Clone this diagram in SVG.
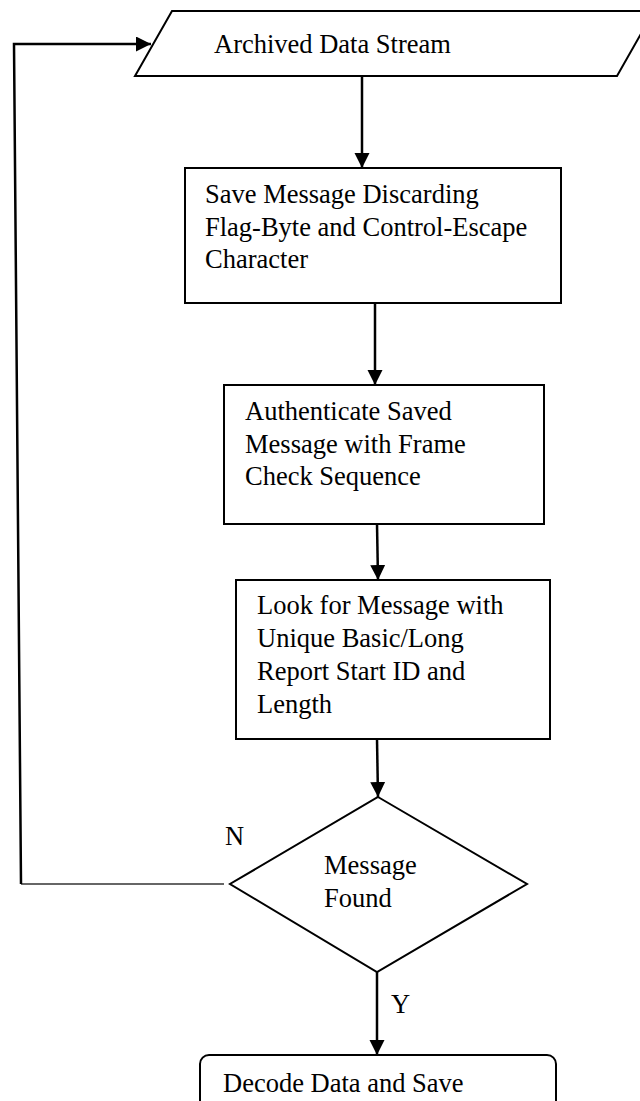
<svg xmlns="http://www.w3.org/2000/svg" width="640" height="1101" viewBox="0 0 640 1101">
<style>
  .shape { fill: #ffffff; stroke: #000000; stroke-width: 2; }
  .conn { fill: none; stroke: #000000; stroke-width: 2.5; }
  .thin { fill: none; stroke: #333333; stroke-width: 1.6; }
  text { font-family: "Liberation Serif", "Times New Roman", serif; font-size: 26.5px; fill: #000000; }
</style>
<defs>
  <marker id="arrow" markerUnits="userSpaceOnUse" markerWidth="16" markerHeight="16" refX="15" refY="7.5" orient="auto">
    <path d="M0,0 L15,7.5 L0,15 z" fill="#000000"/>
  </marker>
</defs>
<rect width="640" height="1101" fill="#ffffff"/>

<g id="connectors">
  <polyline class="thin" points="224,884 21,884"/>
  <polyline class="conn" points="21,884 14,44 151,44" stroke-width="2.2" marker-end="url(#arrow)"/>
  <line class="conn" x1="362" y1="76" x2="362" y2="168" marker-end="url(#arrow)"/>
  <line class="conn" x1="375" y1="303" x2="375" y2="385" marker-end="url(#arrow)"/>
  <line class="conn" x1="377" y1="524" x2="378" y2="580" marker-end="url(#arrow)"/>
  <line class="conn" x1="377" y1="739" x2="378" y2="797" marker-end="url(#arrow)"/>
  <line class="conn" x1="377" y1="972" x2="377" y2="1055" marker-end="url(#arrow)"/>
  <text x="225" y="845">N</text>
  <text x="391" y="1013">Y</text>
</g>

<g id="node-archived">
  <polygon class="shape" points="172,11 654,11 617,76 135,76"/>
  <text x="214" y="53">Archived Data Stream</text>
</g>

<g id="node-save">
  <rect class="shape" x="185" y="168" width="376" height="135"/>
  <text x="205" y="203">Save Message Discarding</text>
  <text x="205" y="236">Flag-Byte and Control-Escape</text>
  <text x="205" y="268">Character</text>
</g>

<g id="node-authenticate">
  <rect class="shape" x="224" y="385" width="320" height="139"/>
  <text x="245" y="420">Authenticate Saved</text>
  <text x="245" y="453">Message with Frame</text>
  <text x="245" y="485">Check Sequence</text>
</g>

<g id="node-look">
  <rect class="shape" x="236" y="580" width="314" height="159"/>
  <text x="257" y="614">Look for Message with</text>
  <text x="257" y="647">Unique Basic/Long</text>
  <text x="257" y="680">Report Start ID and</text>
  <text x="257" y="713">Length</text>
</g>

<g id="node-decision">
  <polygon class="shape" points="378,797 527,884 377,972 230,884"/>
  <text x="324" y="874">Message</text>
  <text x="324" y="907">Found</text>
</g>

<g id="node-decode">
  <rect class="shape" x="200" y="1055" width="356" height="80" rx="9" ry="9"/>
  <text x="223" y="1092">Decode Data and Save</text>
</g>
</svg>
